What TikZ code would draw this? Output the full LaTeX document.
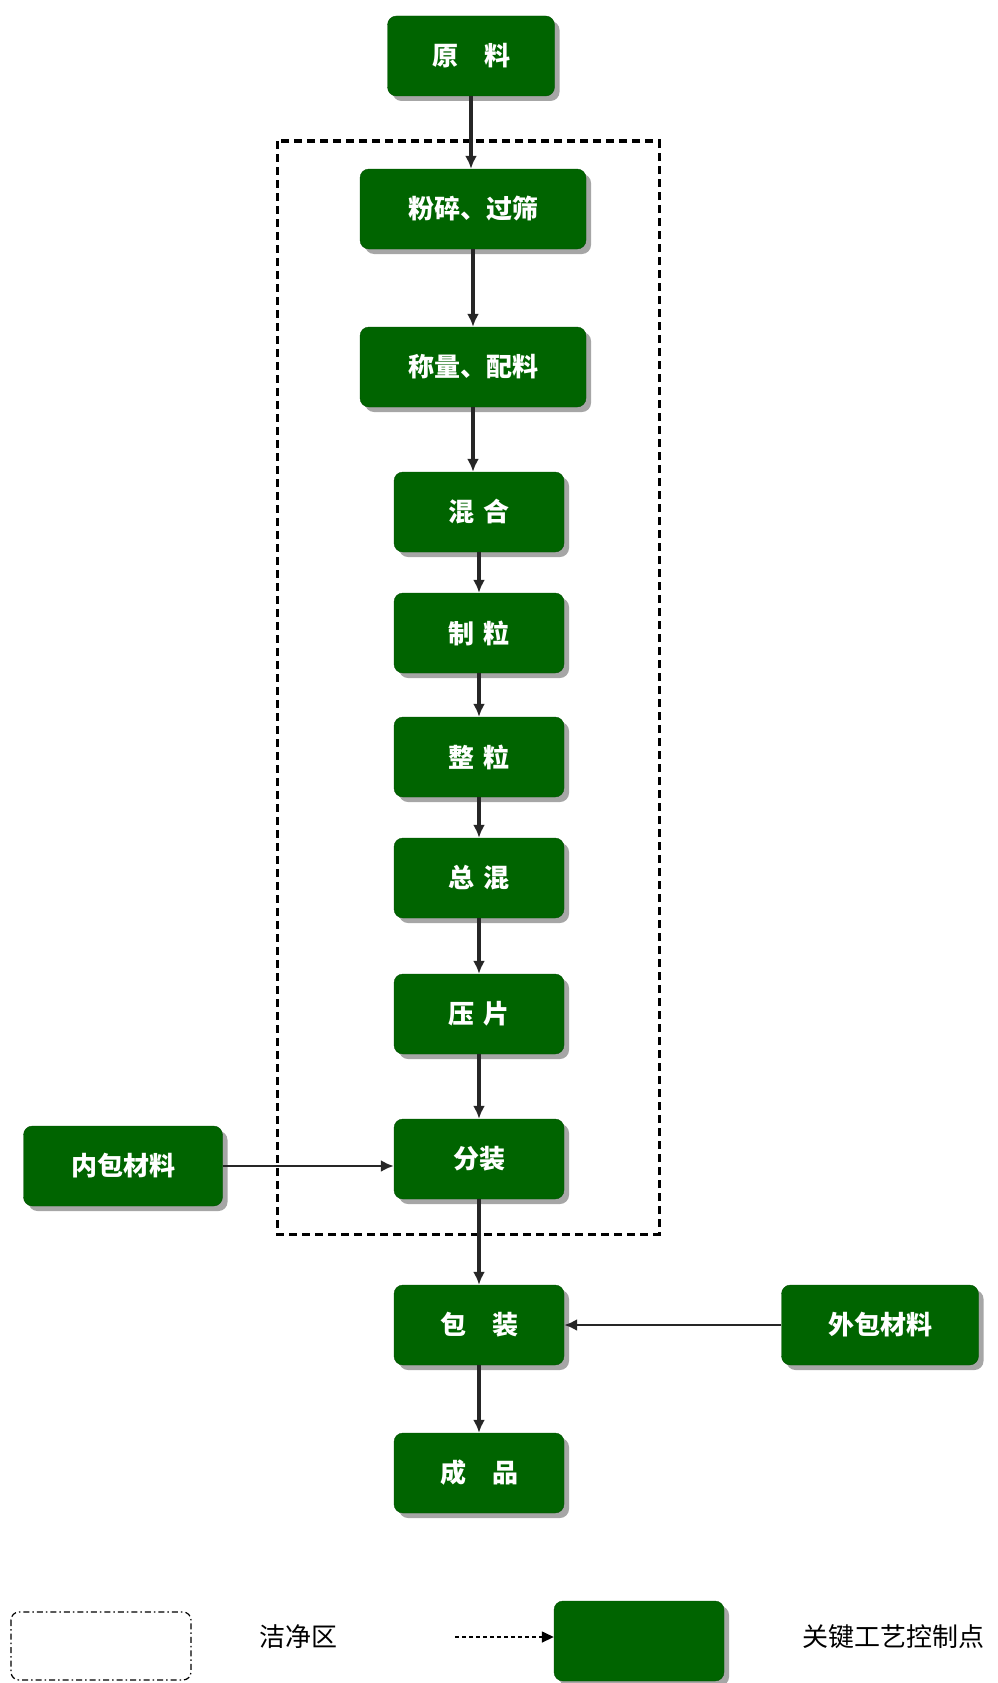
\documentclass[tikz,border=0pt]{standalone}
\usepackage{fontspec}
\newfontfamily\cjk{Noto Sans CJK SC}
\usepackage{xcolor}
\definecolor{keygreen}{HTML}{006400}
\usepackage{tikz}
\usetikzlibrary{arrows.meta, positioning, shadows}
\tikzset{
	keybox/.style={draw=keygreen!80!black, fill=keygreen, rounded corners=9pt, minimum height=80pt, minimum width=#1, text=white, font=\cjk\bfseries\fontsize{26}{30}\selectfont, drop shadow={shadow xshift=5pt, shadow yshift=-5pt, fill=gray!70, opacity=1}},
	keybox/.default=170pt,
	flowarr/.style={-{Latex[length=13pt, width=12pt]}, line width=3.5pt, black!85},
	feedarr/.style={-{Latex[length=13pt, width=12pt]}, line width=2.5pt, black!85},
	cleanzone/.style={draw, dashed, dash pattern=on 8pt off 5pt, line width=3pt},
	legtext/.style={font=\cjk\fontsize{26}{30}\selectfont},
}

\begin{document}
\begin{tikzpicture}[x=1pt, y=-1pt]
	\useasboundingbox (0,0) rectangle (997,1683);

	% Clean zone
	\draw[cleanzone] (277,141) rectangle (659,1234);

	% Main process
	\node[keybox=167pt] (raw) at (471,56) {原\quad 料};
	\node[keybox=226pt] (crush) at (473,209) {粉碎、过筛};
	\node[keybox=226pt] (weigh) at (473,367) {称量、配料};
	\node[keybox] (mix) at (479,512) {混\,\,合};
	\node[keybox] (gran) at (479,633) {制\,\,粒};
	\node[keybox] (sizing) at (479,757) {整\,\,粒};
	\node[keybox] (blend) at (479,878) {总\,\,混};
	\node[keybox] (press) at (479,1014) {压\,\,片};
	\node[keybox] (fill) at (479,1159) {分装};
	\node[keybox] (pack) at (479,1325) {包\quad 装};
	\node[keybox] (prod) at (479,1473) {成\quad 品};

	% Packaging materials
	\node[keybox=199pt] (inner) at (123,1166) {内包材料};
	\node[keybox=197pt] (outer) at (880,1325) {外包材料};

	% Arrows
	\draw[flowarr] (raw.south) -- (raw.south |- crush.north);
	\draw[flowarr] (crush.south) -- (crush.south |- weigh.north);
	\draw[flowarr] (weigh.south) -- (weigh.south |- mix.north);
	\draw[flowarr] (mix) -- (gran);
	\draw[flowarr] (gran) -- (sizing);
	\draw[flowarr] (sizing) -- (blend);
	\draw[flowarr] (blend) -- (press);
	\draw[flowarr] (press) -- (fill);
	\draw[flowarr] (fill) -- (pack);
	\draw[flowarr] (pack) -- (prod);
	\draw[feedarr] (inner.east) -- (inner.east -| fill.west);
	\draw[feedarr] (outer) -- (pack);

	% Legend
	\draw[line width=1.2pt, rounded corners=8pt, dash pattern=on 6pt off 3pt on 1.5pt off 3pt] (11,1612) rectangle (191,1680);
	\node[legtext] (cleanlbl) at (298,1637) {洁净区};
	\coordinate (legarr) at (455,1637);
	\node[keybox, minimum width=170pt] (legbox) at (639,1641) {};
	\draw[line width=1.5pt, dash pattern=on 4pt off 3pt, -{Triangle[length=12pt, width=11pt]}] (legarr) -- (legarr -| legbox.west);
	\node[legtext] (keylbl) at (893,1637) {关键工艺控制点};
\end{tikzpicture}
\end{document}
